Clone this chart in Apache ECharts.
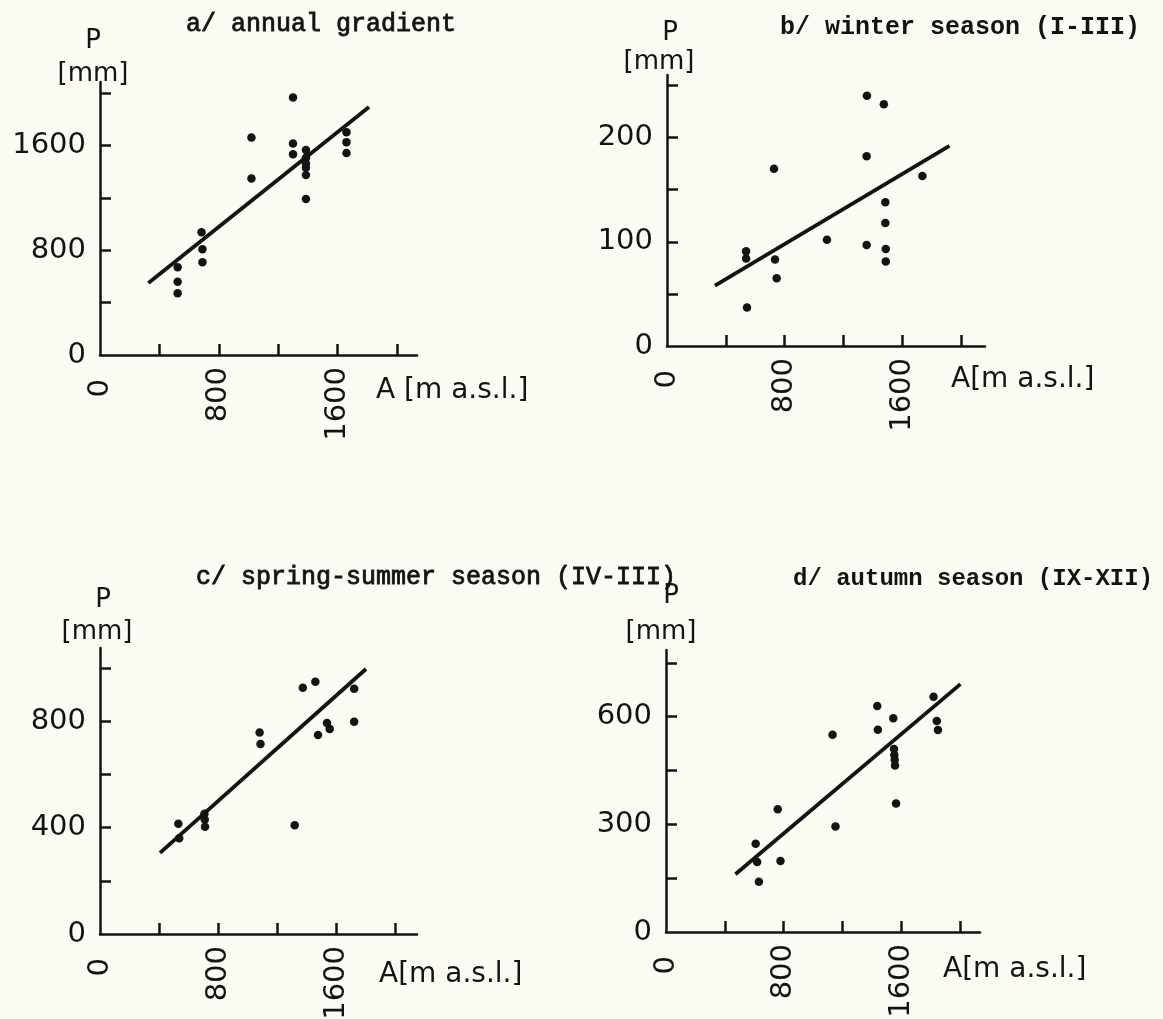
<!DOCTYPE html>
<html>
<head>
<meta charset="utf-8">
<script src="https://cdn.jsdelivr.net/npm/echarts@6/dist/echarts.min.js"></script>
<style>
html,body{margin:0;padding:0;background:#fbfbf4;}
#chart{width:1163px;height:1019px;}
</style>
</head>
<body>
<div id="chart"></div>
<script>
// a/ annual gradient: [altitude m a.s.l., precipitation mm]
var annualPts = [
	[523,669],[523,560],[523,471],
	[684,937],[690,807],[690,708],
	[1020,1660],[1020,1348],
	[1300,1965],[1300,1615],[1300,1532],
	[1387,1565],[1387,1505],[1387,1462],[1387,1430],[1387,1374],[1387,1190],
	[1660,1700],[1660,1625],[1660,1542]
];
var annualFit = [[326,550],[1812,1893]];

// b/ winter season (I-III)
var winterPts = [
	[538,91],[538,84],[544,37],
	[728,170],[735,83],[746,65],
	[1088,102],
	[1360,240],[1358,182],[1358,97],
	[1475,232],[1485,138],[1485,118],[1488,93],[1488,81],
	[1737,163]
];
var winterFit = [[326,58],[1921,192]];

// c/ spring-summer season
var springPts = [
	[531,414],[537,360],
	[708,452],[710,430],[712,403],
	[1082,757],[1088,714],
	[1320,409],
	[1375,926],[1460,948],
	[1478,748],[1539,793],[1557,771],
	[1723,922],[1723,798]
];
var springFit = [[407,305],[1803,996]];

// d/ autumn season (IX-XII)
var autumnPts = [
	[610,246],[620,195],[632,140],
	[760,342],[779,198],
	[1133,550],[1153,294],
	[1437,630],[1441,564],
	[1546,596],[1551,510],[1553,493],[1556,480],[1558,464],[1565,358],
	[1820,656],[1842,588],[1850,563]
];
var autumnFit = [[472,161],[2003,691]];

var xTicks = [400,800,1200,1600,2000];
var xLabels = [0,800,1600];
var yTicksA = [400,800,1200,1600,2000], yLabelsA = [0,800,1600];
var yTicksB = [50,100,150,200,250],     yLabelsB = [0,100,200];
var yTicksC = [200,400,600,800,1000],   yLabelsC = [0,400,800];
var yTicksD = [150,300,450,600,750],    yLabelsD = [0,300,600];

var ink = '#131313';
var numFont = 'DejaVu Sans';

function xAxisOf(idx,max){
	return {
		type:'value', gridIndex:idx, min:0, max:max,
		axisLine:{show:true,lineStyle:{color:ink,width:2.5}},
		axisTick:{show:true,inside:true,length:11,customValues:xTicks,lineStyle:{color:ink,width:2.5}},
		axisLabel:{
			customValues:xLabels, rotate:90, margin:12, color:ink,
			fontFamily:numFont, fontSize:29,
			// the 0 sits a little further from the axis than the others
			formatter:function(v){ return v === 0 ? '{z|0}' : String(v); },
			rich:{z:{fontFamily:numFont,fontSize:29,color:ink,padding:[0,12,0,0]}}
		},
		splitLine:{show:false}
	};
}

function yAxisOf(idx,max,ticks,labels){
	return {
		type:'value', gridIndex:idx, min:0, max:max,
		axisLine:{show:true,lineStyle:{color:ink,width:2.5}},
		axisTick:{show:true,inside:true,length:11,customValues:ticks,lineStyle:{color:ink,width:2.5}},
		axisLabel:{customValues:labels, margin:14, color:ink, fontFamily:numFont, fontSize:29,
			formatter:function(v){ return String(v); }},
		splitLine:{show:false}
	};
}

function dots(idx,data){
	return {type:'scatter',xAxisIndex:idx,yAxisIndex:idx,data:data,symbol:'circle',symbolSize:8.5,
		itemStyle:{color:ink,opacity:1},z:3};
}
function fitLine(idx,data){
	return {type:'line',xAxisIndex:idx,yAxisIndex:idx,data:data,showSymbol:false,symbol:'none',
		lineStyle:{color:ink,width:3.8},z:2};
}

function label(x,y,text,size,align,family,weight,thick){
	return {type:'text',x:x,y:y,silent:true,
		style:{text:text,fill:ink,stroke:thick?ink:null,lineWidth:thick||0,
			font:(weight||'normal')+' '+size+'px "'+(family||numFont)+'"',
			align:align||'center',verticalAlign:'middle'}};
}

var myChart = echarts.init(document.getElementById('chart'));
var option = {
	backgroundColor:'#fbfbf4',
	animation:false,
	grid:[
		{left:100,top:82,width:317,height:273,outerBoundsMode:'none'},
		{left:667,top:75,width:318,height:271,outerBoundsMode:'none'},
		{left:100,top:648,width:317,height:286,outerBoundsMode:'none'},
		{left:666,top:650,width:314,height:282,outerBoundsMode:'none'}
	],
	xAxis:[xAxisOf(0,2135),xAxisOf(1,2163),xAxisOf(2,2149),xAxisOf(3,2136)],
	yAxis:[
		yAxisOf(0,2084,yTicksA,yLabelsA),
		yAxisOf(1,260,yTicksB,yLabelsB),
		yAxisOf(2,1075,yTicksC,yLabelsC),
		yAxisOf(3,786,yTicksD,yLabelsD)
	],
	series:[
		dots(0,annualPts),fitLine(0,annualFit),
		dots(1,winterPts),fitLine(1,winterFit),
		dots(2,springPts),fitLine(2,springFit),
		dots(3,autumnPts),fitLine(3,autumnFit)
	],
	graphic:[
		label(186,24,'a/ annual gradient',25,'left','Liberation Mono','normal',0.8),
		label(780,28,'b/ winter season (I-III)',25,'left','Liberation Mono','bold'),
		label(196,577,'c/ spring-summer season (IV-III)',25,'left','Liberation Mono','normal',0.8),
		label(793,579,'d/ autumn season (IX-XII)',24,'left','Liberation Mono','bold'),

		label(93,41,'P',26),label(93,74,'[mm]',26),
		label(670,33,'P',26),label(659,62,'[mm]',26),
		label(103,600,'P',26),label(97,632,'[mm]',26),
		label(671,596,'P',26),label(661,632,'[mm]',26),

		label(376,391,'A [m a.s.l.]',28,'left'),
		label(951,380,'A[m a.s.l.]',28,'left'),
		label(379,975,'A[m a.s.l.]',28,'left'),
		label(943,970,'A[m a.s.l.]',28,'left')
	]
};
myChart.setOption(option);
</script>
</body>
</html>
